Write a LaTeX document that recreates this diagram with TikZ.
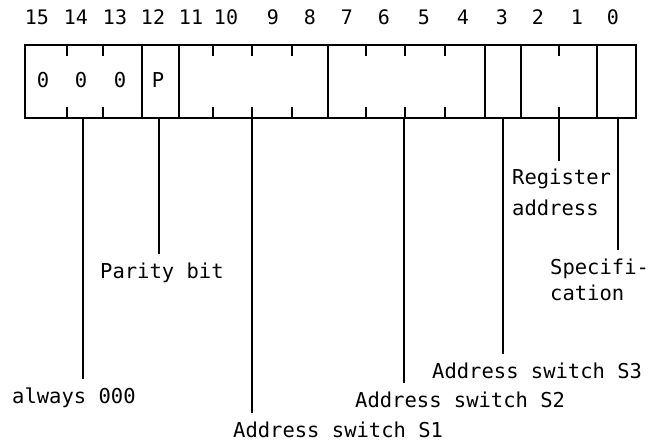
\documentclass[tikz,border=0pt]{standalone}
\usepackage{fontspec}
\setmonofont{DejaVu Sans Mono}
\begin{document}
\begin{tikzpicture}[x=1pt,y=-1pt,
  box/.style={line width=2.3pt},
  tickmark/.style={line width=2.2pt},
  leader/.style={line width=2.3pt, shorten >=8pt},
  lab/.style={font=\ttfamily\fontsize{20.5}{28}\selectfont, inner sep=0pt, anchor=base west},
  cell/.style={font=\ttfamily\fontsize{20.5}{20}\selectfont, inner sep=0pt},
  num/.style={font=\ttfamily\fontsize{20}{20}\selectfont, inner sep=0pt}]
\useasboundingbox (0,0) rectangle (664,441);
% register frame
\draw[box] (25,45) rectangle (636,118);
\foreach \x in {142,179,328,485,521,597}
  \draw[box] (\x,45) -- (\x,118);
% bit ticks
\foreach \x in {67,103,213,252,292,366,405,445,559}{
  \draw[tickmark] (\x,45) -- (\x,56);
  \draw[tickmark] (\x,107) -- (\x,118);
}
% bit numbers
\foreach \n/\x in {15/37,14/76,13/115,12/153,11/191,10/226,9/273,8/310,7/347,6/384,5/424,4/463,3/502,2/538,1/577,0/613}
  \node[num] (n\n) at (\x,17) {\n};
% cell contents
\node[cell] (z15) at (43,80) {0};
\node[cell] (z14) at (81,80) {0};
\node[cell] (z13) at (120,80) {0};
\node[cell] (p12) at (158,80) {P};
% labels
\node[lab] (l000) at (12,403) {always 000};
\node[lab] (lpar) at (100,278) {Parity bit};
\node[lab] (ls1) at (233,437) {Address switch S1};
\node[lab] (ls2) at (355,407) {Address switch S2};
\node[lab] (ls3) at (432,378) {Address switch S3};
\node[lab] (lreg) at (512,185) {Register};
\node[lab] (ladr) at (512,215) {address};
\node[lab] (lspa) at (550,274) {Specifi-};
\node[lab] (lspb) at (550,300) {cation};
% leader origins on the frame bottom
\coordinate (b14) at (83,118);
\coordinate (b12) at (159,118);
\coordinate (b9) at (252,118);
\coordinate (b5) at (404,118);
\coordinate (b3) at (503,118);
\coordinate (b1) at (559,118);
\coordinate (b0) at (618,118);
\draw[leader] (b14) -- (b14 |- l000.north);
\draw[leader] (b12) -- (b12 |- lpar.north);
\draw[leader] (b9) -- (b9 |- ls1.north);
\draw[leader] (b5) -- (b5 |- ls2.north);
\draw[leader] (b3) -- (b3 |- ls3.north);
\draw[leader] (b1) -- (b1 |- lreg.north);
\draw[leader] (b0) -- (b0 |- lspa.north);
\end{tikzpicture}
\end{document}
